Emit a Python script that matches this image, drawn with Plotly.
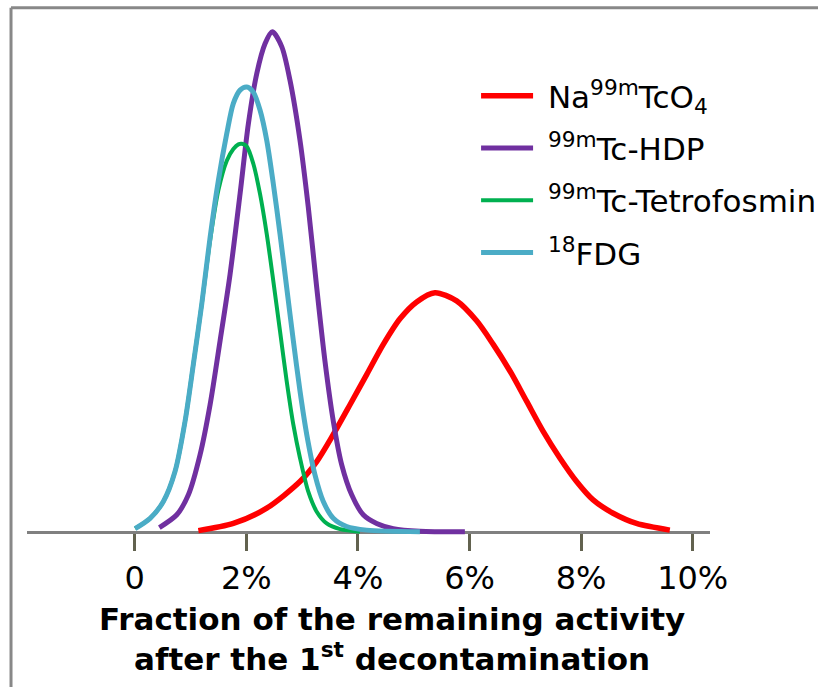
import plotly.graph_objects as go

# ---- data (x in %, y in relative frequency units) ----
na_x = [1.141, 1.768, 2.366, 2.962, 3.262, 3.559, 3.858, 4.157, 4.455, 4.754, 5.053, 5.380,
        5.769, 6.128, 6.425, 6.725, 7.023, 7.320, 7.619, 7.919, 8.216, 8.574, 8.993, 9.590]
na_y = [0.002, 0.016, 0.046, 0.098, 0.137, 0.190, 0.248, 0.307, 0.366, 0.416, 0.449, 0.467,
        0.451, 0.412, 0.366, 0.314, 0.255, 0.196, 0.144, 0.098, 0.062, 0.036, 0.016, 0.003]

hdp_x = [0.442, 0.754, 0.962, 1.171, 1.351, 1.530, 1.709, 1.888, 2.037, 2.187, 2.337, 2.466,
         2.635, 2.783, 2.962, 3.111, 3.262, 3.410, 3.559, 3.709, 3.889, 4.096, 4.336, 4.634,
         5.111, 5.917]
hdp_y = [0.008, 0.033, 0.072, 0.150, 0.248, 0.373, 0.503, 0.660, 0.797, 0.895, 0.954, 0.977,
         0.948, 0.882, 0.765, 0.634, 0.477, 0.333, 0.216, 0.131, 0.072, 0.033, 0.016, 0.006,
         0.001, 0.0]

tetro_x = [0.007, 0.276, 0.514, 0.724, 0.903, 1.051, 1.202, 1.351, 1.499, 1.650, 1.768, 1.858,
           1.919, 2.008, 2.126, 2.246, 2.366, 2.484, 2.604, 2.724, 2.843, 2.962, 3.111, 3.262,
           3.441, 3.680, 4.038]
tetro_y = [0.006, 0.026, 0.059, 0.118, 0.216, 0.327, 0.445, 0.569, 0.667, 0.725, 0.748, 0.757,
           0.758, 0.753, 0.719, 0.660, 0.582, 0.490, 0.392, 0.294, 0.209, 0.144, 0.078, 0.039,
           0.016, 0.005, 0.0]

fdg_x = [0.007, 0.276, 0.514, 0.724, 0.903, 1.051, 1.202, 1.351, 1.499, 1.650, 1.768, 1.888,
         2.008, 2.126, 2.246, 2.366, 2.484, 2.604, 2.724, 2.843, 2.962, 3.083, 3.231, 3.380,
         3.559, 3.799, 4.157, 5.111]
fdg_y = [0.006, 0.026, 0.059, 0.118, 0.216, 0.327, 0.445, 0.575, 0.686, 0.778, 0.837, 0.863,
         0.869, 0.859, 0.824, 0.765, 0.680, 0.582, 0.477, 0.373, 0.275, 0.190, 0.111, 0.059,
         0.026, 0.010, 0.003, 0.0]

tick_vals = [0, 2, 4, 6, 8, 10]
tick_text = ["0", "2%", "4%", "6%", "8%", "10%"]

names = ["&nbsp;Na<sup>99m</sup>TcO<sub>4</sub>", "&nbsp;<sup>99m</sup>Tc-HDP",
         "&nbsp;<sup>99m</sup>Tc-Tetrofosmin", "&nbsp;<sup>18</sup>FDG"]
colors = ["#FF0000", "#7030A0", "#00B050", "#4BACC6"]
widths = [5.5, 5, 4, 5]

FONT = "DejaVu Sans"

fig = go.Figure()
series = [(na_x, na_y), (hdp_x, hdp_y), (tetro_x, tetro_y), (fdg_x, fdg_y)]
for i, (xs, ys) in enumerate(series):
    fig.add_trace(go.Scatter(
        x=xs, y=ys, mode="lines", name=names[i],
        line=dict(color=colors[i], width=widths[i], shape="spline", smoothing=0.8),
        legendrank=i + 1, legendgroup=str(i), hoverinfo="skip",
    ))

fig.update_layout(
    width=818, height=687,
    margin=dict(l=27, r=108, t=20, b=140, autoexpand=False),
    paper_bgcolor="white", plot_bgcolor="white",
    font=dict(family=FONT, size=31, color="black"),
    showlegend=True,
    legend=dict(x=0.6575, y=0.907, xanchor="left", yanchor="top",
                font=dict(family=FONT, size=31, color="black"),
                bgcolor="rgba(0,0,0,0)", itemwidth=52, tracegroupgap=9),
    xaxis=dict(range=[-1.93, 10.31], tickvals=tick_vals, ticktext=tick_text,
               showgrid=False, zeroline=False, showline=True, linecolor="#808080",
               linewidth=3, ticks="outside", ticklen=17, tickwidth=2.5,
               tickcolor="#62624f", anchor="free", position=0.03 / 1.03,
               layer="below traces",
               tickfont=dict(family=FONT, size=32, color="black")),
    yaxis=dict(range=[-0.03, 1.0], visible=False, showgrid=False, zeroline=False),
    shapes=[
        dict(type="line", xref="paper", yref="paper", x0=-0.0234, x1=1.2, y0=1.0231, y1=1.0231,
             line=dict(color="#888888", width=3)),
        dict(type="line", xref="paper", yref="paper", x0=-0.0234, x1=-0.0234, y0=1.0231, y1=-0.27,
             line=dict(color="#888888", width=3)),
    ],
    annotations=[
        dict(text="Fraction of the remaining activity<br>after the 1<sup>st</sup> decontamination",
             xref="paper", yref="paper", x=(392 - 27) / 683, y=-0.175,
             xanchor="center", yanchor="middle", showarrow=False,
             font=dict(family=FONT, size=31, color="black", weight="bold")),
    ],
)

fig.write_html("out.html", config={"displayModeBar": False},
               post_script="document.body.style.margin='0';")
